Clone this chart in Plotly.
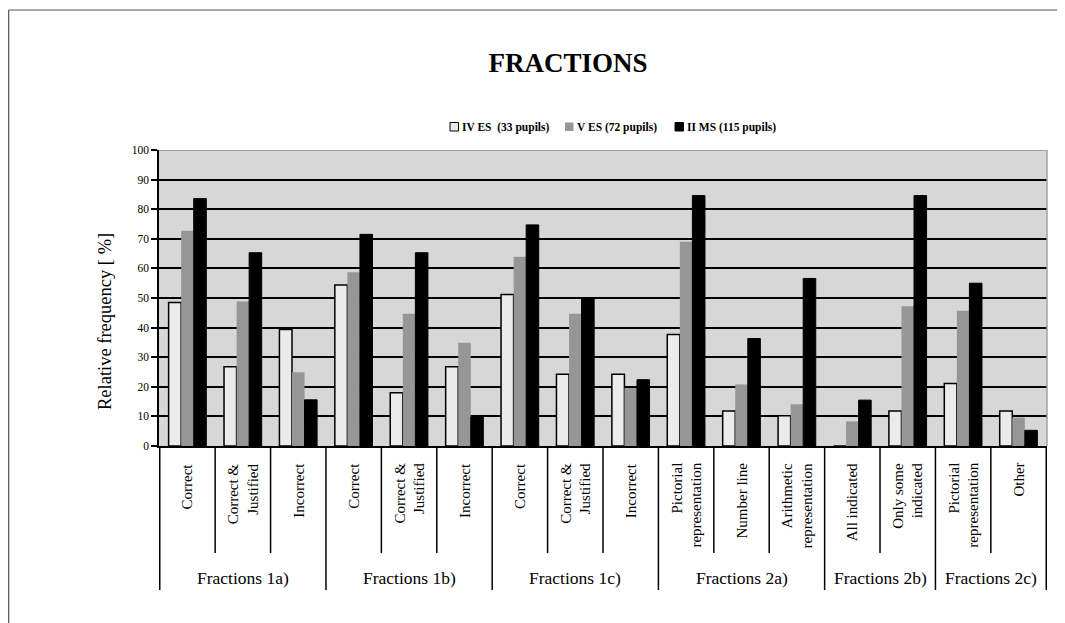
import plotly.graph_objects as go

# ---------------- data ----------------
groups = ["Fractions 1a)", "Fractions 1b)", "Fractions 1c)",
          "Fractions 2a)", "Fractions 2b)", "Fractions 2c)"]
group_sizes = [3, 3, 3, 3, 2, 2]
answers = ["Correct", "Correct &<br>Justified", "Incorrect",
           "Correct", "Correct &<br>Justified", "Incorrect",
           "Correct", "Correct &<br>Justified", "Incorrect",
           "Pictorial<br>representation", "Number line", "Arithmetic<br>representation",
           "All indicated", "Only some<br>indicated",
           "Pictorial<br>representation", "Other"]
series_names = ["IV ES  (33 pupils)", "V ES (72 pupils)", "II MS (115 pupils)"]
iv_es = [48.5, 26.8, 39.4, 54.4, 18.0, 26.8, 51.2, 24.2, 24.2, 37.7, 11.8, 10.2, 0.0, 11.8, 21.1, 11.8]
v_es = [72.7, 48.8, 24.9, 58.7, 44.7, 34.9, 63.9, 44.7, 19.6, 69.0, 20.8, 14.1, 8.3, 47.2, 45.7, 9.6]
ii_ms = [83.6, 65.3, 15.6, 71.5, 65.3, 9.8, 74.7, 49.7, 22.4, 84.6, 36.3, 56.6, 15.5, 84.6, 55.0, 5.3]
y_ticks = [0, 10, 20, 30, 40, 50, 60, 70, 80, 90, 100]

# unique category keys (group + answer)
group_of = []
for g, n in zip(groups, group_sizes):
    group_of += [g] * n
keys = [f"{g}|{a}" for g, a in zip(group_of, answers)]

FONT = "Liberation Serif"
W, H = 1065, 623
OFF = 8  # page body margin
# plot area in window pixels: x 159..1047, y 150..446
ML, MT = 159 - OFF, 150 - OFF
MR, MB = W - (1047 - OFF), H - (446 - OFF)
PW, PH = W - ML - MR, H - MT - MB


def px_x(px):  # window px -> paper x
    return (px - OFF - ML) / PW


def px_y(py):  # window px -> paper y
    return (H - MB - (py - OFF)) / PH


fig = go.Figure()
styles = [
    dict(color="#ebebeb", line=dict(color="black", width=1.5)),
    dict(color="#969696", line=dict(color="#969696", width=0)),
    dict(color="black", line=dict(color="black", width=1)),
]
for name, vals, st in zip(series_names, [iv_es, v_es, ii_ms], styles):
    fig.add_trace(go.Bar(x=keys, y=vals, name=name, marker=st, showlegend=False))

shapes = []
annotations = []

pos = -0.5
group_edges = [pos]
for n in group_sizes:
    pos += n
    group_edges.append(pos)
for i in range(len(keys) + 1):
    b = i - 0.5
    long = any(abs(b - e) < 1e-9 for e in group_edges)
    shapes.append(dict(type="line", xref="x", yref="paper", x0=b, x1=b,
                       y0=0, y1=px_y(590) if long else px_y(553),
                       line=dict(color="black", width=1.5)))
# top / right gray border of plot area
shapes.append(dict(type="line", xref="paper", yref="y", x0=0, x1=1, y0=100, y1=100,
                   line=dict(color="#a0a0a0", width=2), layer="above"))
shapes.append(dict(type="line", xref="paper", yref="paper", x0=1, x1=1, y0=0, y1=1,
                   line=dict(color="#a0a0a0", width=1.5), layer="above"))
# page frame
shapes.append(dict(type="line", xref="paper", yref="paper", x0=px_x(8.7), x1=px_x(1080),
                   y0=px_y(10), y1=px_y(10), line=dict(color="#505050", width=1.2)))
shapes.append(dict(type="line", xref="paper", yref="paper", x0=px_x(8.7), x1=px_x(8.7),
                   y0=px_y(10), y1=px_y(640), line=dict(color="#505050", width=1.2)))

# legend (drawn as swatches + text, positions in window pixels)
legend_swatch_x = [450, 565, 675]
for name, st, sx in zip(series_names, styles, legend_swatch_x):
    lw = 1 if st["line"]["width"] > 0 else 0
    shapes.append(dict(type="rect", xref="paper", yref="paper",
                       x0=px_x(sx), x1=px_x(sx + 8.5), y0=px_y(131), y1=px_y(122.5),
                       fillcolor=st["color"], line=dict(color="black", width=lw)))
    annotations.append(dict(x=px_x(sx + 10), y=px_y(127), xref="paper", yref="paper",
                            text="<b>" + name.replace("  ", " \u00a0") + "</b>",
                            showarrow=False, xanchor="left", yanchor="middle",
                            font=dict(family=FONT, size=11.5, color="black")))

for i, a in enumerate(answers):
    annotations.append(dict(x=i, y=px_y(461), xref="x", yref="paper", text=a,
                            textangle=-90, showarrow=False, align="right",
                            xanchor="center", yanchor="top",
                            font=dict(family=FONT, size=15, color="black")))
for gi, g in enumerate(groups):
    cx = (group_edges[gi] + group_edges[gi + 1]) / 2
    annotations.append(dict(x=cx, y=px_y(578), xref="x", yref="paper", text=g,
                            showarrow=False, xanchor="center", yanchor="middle",
                            font=dict(family=FONT, size=17.5, color="black")))
annotations.append(dict(x=px_x(105), y=px_y(322), xref="paper", yref="paper",
                        text="Relative frequency [ %]", textangle=-90, showarrow=False,
                        xanchor="center", yanchor="middle",
                        font=dict(family=FONT, size=18.5, color="black")))

fig.update_layout(
    width=W, height=H,
    margin=dict(l=ML, r=MR, t=MT, b=MB),
    paper_bgcolor="white",
    plot_bgcolor="#d7d7d7",
    barmode="group", bargap=0.32, bargroupgap=0,
    title=dict(text="<b>FRACTIONS</b>", x=px_x(568), xref="paper", xanchor="center",
               y=1 - (63 - OFF) / H, yref="container", yanchor="middle",
               font=dict(family=FONT, size=27, color="black")),
    showlegend=False,
    shapes=shapes,
    annotations=annotations,
    xaxis=dict(showticklabels=False, showline=True, linecolor="black", linewidth=1.5,
               ticks="", showgrid=False),
    yaxis=dict(range=[0, 100], tickvals=y_ticks, showline=True, linecolor="black",
               linewidth=1.5, ticks="outside", ticklen=6, tickcolor="black", tickwidth=1.5,
               showgrid=True, gridcolor="black", gridwidth=1.5, zeroline=False,
               tickfont=dict(family=FONT, size=11.5, color="black")),
)

fig.write_html("out.html")
